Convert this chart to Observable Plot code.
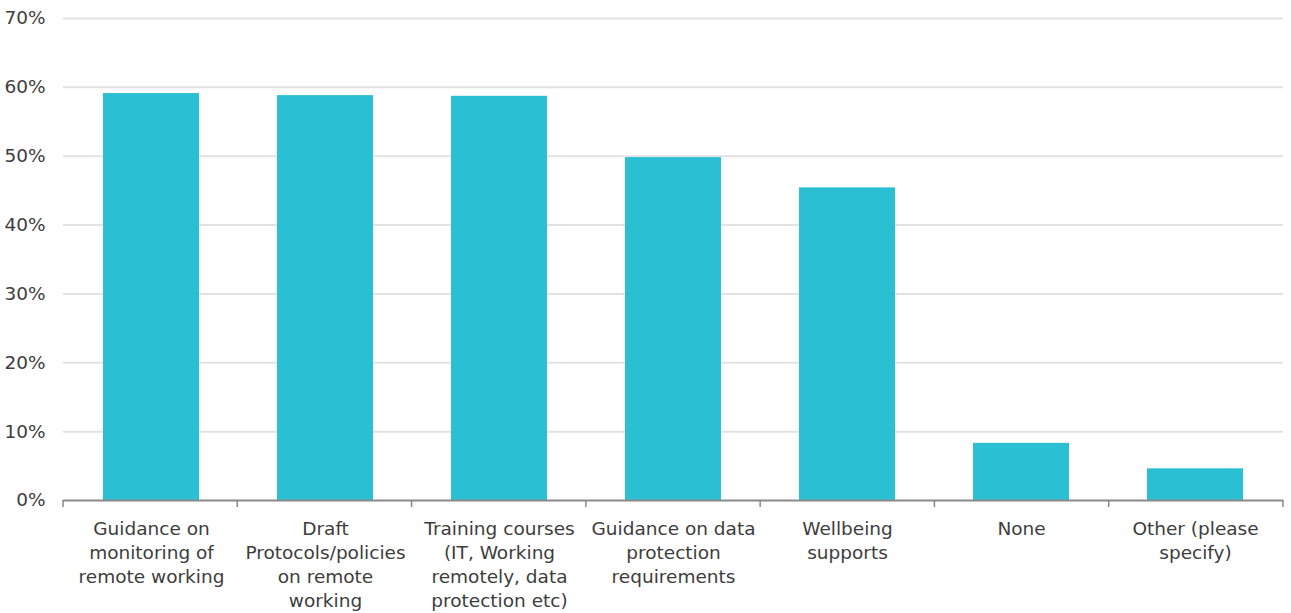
<!DOCTYPE html>
<html>
<head>
<meta charset="utf-8">
<script src="https://cdn.jsdelivr.net/npm/d3@7"></script>
<script src="https://cdn.jsdelivr.net/npm/@observablehq/plot@0.6"></script>
<style>
  html, body { margin: 0; padding: 0; background: #fff; }
  #chart svg { display: block; }
</style>
</head>
<body>
<div id="chart"></div>
<script>
const categories = [
  "Guidance on\nmonitoring of\nremote working",
  "Draft\nProtocols/policies\non remote\nworking",
  "Training courses\n(IT, Working\nremotely, data\nprotection etc)",
  "Guidance on data\nprotection\nrequirements",
  "Wellbeing\nsupports",
  "None",
  "Other (please\nspecify)"
];
const values = [59.1, 58.8, 58.7, 49.8, 45.4, 8.3, 4.6];
const yTicks = [0, 10, 20, 30, 40, 50, 60, 70];

const data = categories.map((c, i) => ({category: c, value: values[i]}));

const W = 1291, H = 613;
const mL = 63, mR = 8, mT = 18, mB = 113;
const pad = 0.45;

// category-boundary ticks under the baseline
function boundaryTicks(index, scales, values, dimensions) {
  const {width, height, marginLeft, marginRight, marginBottom} = dimensions;
  const n = categories.length;
  const step = (width - marginLeft - marginRight) / n;
  const y0 = height - marginBottom;
  const g = d3.create("svg:g");
  for (let i = 0; i <= n; i++) {
    const x = marginLeft + i * step;
    g.append("line").attr("x1", x).attr("x2", x).attr("y1", y0).attr("y2", y0 + 7)
      .attr("stroke", "#898989").attr("stroke-width", 1.5);
  }
  return g.node();
}

const chart = Plot.plot({
  width: W,
  height: H,
  marginLeft: mL,
  marginRight: mR,
  marginTop: mT,
  marginBottom: mB,
  style: {fontFamily: "'DejaVu Sans', sans-serif", fontSize: "18.5px", color: "#404040", background: "#fff"},
  x: {domain: categories, paddingInner: pad, paddingOuter: pad / 2, label: null},
  y: {domain: [0, 70], label: null},
  marks: [
    Plot.gridY(yTicks.filter(d => d > 0), {stroke: "#e2e2e2", strokeOpacity: 1, strokeWidth: 2}),
    Plot.barY(data, {x: "category", y: "value", fill: "#2bbfd3"}),
    Plot.ruleY([0], {stroke: "#898989", strokeWidth: 2}),
    boundaryTicks,
    Plot.axisY({ticks: yTicks, tickSize: 0, tickPadding: 18, tickFormat: d => d + "%", fontSize: 18.5, fill: "#3d3d3d"}),
    Plot.axisX({tickSize: 0, tickPadding: 17, lineHeight: 1.3, fontSize: 18.5, fill: "#3d3d3d", textOverflow: null, lineAnchor: "top"})
  ]
});
document.getElementById("chart").appendChild(chart);
</script>
</body>
</html>
